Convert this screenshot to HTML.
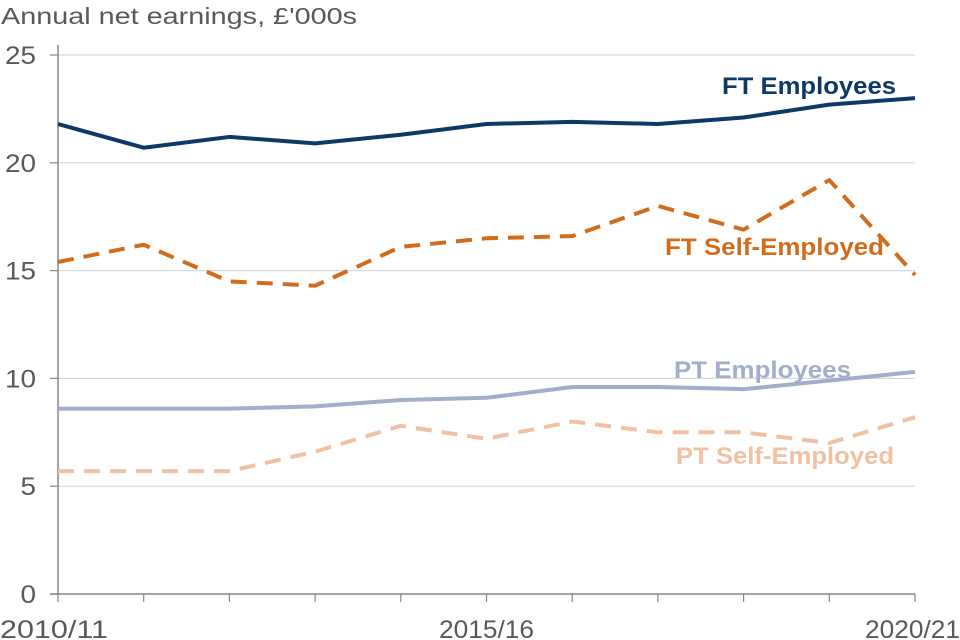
<!DOCTYPE html>
<html><head><meta charset="utf-8"><style>
body{margin:0;background:#fff;}
svg{display:block;font-family:"Liberation Sans",Arial,sans-serif;}
</style></head><body>
<svg id="chart" width="960" height="640"></svg>
<script>
const categories=["2010/11","2011/12","2012/13","2013/14","2014/15","2015/16","2016/17","2017/18","2018/19","2019/20","2020/21"];
const ftEmployees=[21.8,20.7,21.2,20.9,21.3,21.8,21.9,21.8,22.1,22.7,23.0];
const ftSelfEmployed=[15.4,16.2,14.5,14.3,16.1,16.5,16.6,18.0,16.9,19.2,14.8];
const ptEmployees=[8.6,8.6,8.6,8.7,9.0,9.1,9.6,9.6,9.5,9.9,10.3];
const ptSelfEmployed=[5.7,5.7,5.7,6.6,7.8,7.2,8.0,7.5,7.5,7.0,8.2];
const yTicks=[0,5,10,15,20,25];
const xLabelIdx=[0,5,10];

const NS="http://www.w3.org/2000/svg";
const svg=document.getElementById('chart');
const x0=58,x1=915,yb=594,yt=55;
const xs=i=>x0+(x1-x0)*i/(categories.length-1);
const ys=v=>yb-(yb-yt)*v/25;
function mk(tag,attrs,parent){const e=document.createElementNS(NS,tag);for(const k in attrs)e.setAttribute(k,attrs[k]);(parent||svg).appendChild(e);return e;}

const title=mk('text',{x:1,y:24,'font-size':23,fill:'#595959',textLength:356,lengthAdjust:'spacingAndGlyphs'});
title.textContent="Annual net earnings, £'000s";



yTicks.forEach(t=>{
  if(t>0){const g=mk('line',{x1:x0,x2:x1,y1:ys(t),y2:ys(t),stroke:'#d9d9d9','stroke-width':1.2});
  
  }
  const len=String(t).length*15.5;
  const tl=mk('text',{x:36-len,y:ys(t)+9,'font-size':25,fill:'#595959',textLength:len,lengthAdjust:'spacingAndGlyphs'});
  tl.textContent=t;
  
  
  const tk=mk('line',{x1:50,x2:x0,y1:ys(t),y2:ys(t),stroke:'#868686','stroke-width':1.2});
  
  
});
const ya=mk('line',{x1:x0,x2:x0,y1:yt-10,y2:yb,stroke:'#868686','stroke-width':1.5});


const xa=mk('line',{x1:x0-8,x2:x1,y1:yb,y2:yb,stroke:'#868686','stroke-width':1.5});


categories.forEach((c,i)=>{
  const tk=mk('line',{x1:xs(i),x2:xs(i),y1:yb,y2:yb+8,stroke:'#868686','stroke-width':1.2});
  
  
});
xLabelIdx.forEach(i=>{
  const w=95;
  const xx=i===0?0:(i===categories.length-1?960-w:xs(i)-w/2);
  const tl=mk('text',{x:xx,y:638,'font-size':25,fill:'#595959',textLength:(i===0?108:w),lengthAdjust:'spacingAndGlyphs'});
  tl.textContent=categories[i];
  
  
});

function series(data,color,dash,name){
  const d=data.map((v,i)=>(i?'L':'M')+xs(i)+','+ys(v)).join(' ');
  const p=mk('path',{d:d,fill:'none',stroke:color,'stroke-width':4,'stroke-linejoin':'round'});
  if(dash)p.setAttribute('stroke-dasharray',dash);
  
  
}
series(ptSelfEmployed,'#f2c0a2','16,10','pt-self-employed-line');
series(ptEmployees,'#a3adcc',null,'pt-employees-line');
series(ftSelfEmployed,'#d26c1d','16,10','ft-self-employed-line');
series(ftEmployees,'#0c3966',null,'ft-employees-line');

function label(txt,x,w,y,color,name){
  const t=mk('text',{x:x,y:y,'font-size':24,'font-weight':'bold',fill:color,textLength:w,lengthAdjust:'spacingAndGlyphs'});
  t.textContent=txt;
  
  
}
label('FT Employees',722,174,94,'#0c3966','legend-ft-employees');
label('FT Self-Employed',665,219,255,'#d26c1d','legend-ft-self-employed');
label('PT Employees',674,177,378,'#a3adcc','legend-pt-employees');
label('PT Self-Employed',676,218,464,'#f2c0a2','legend-pt-self-employed');
</script>
</body></html>
